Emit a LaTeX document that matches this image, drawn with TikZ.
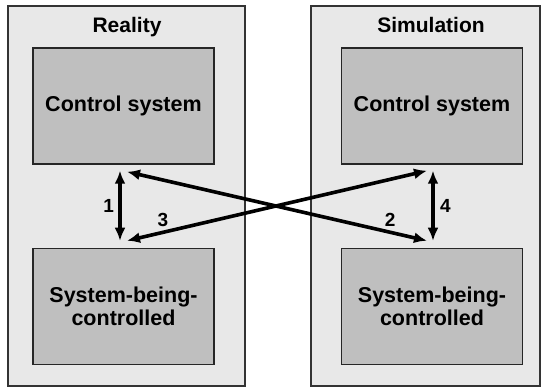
\documentclass[tikz,border=0pt]{standalone}
\usepackage{fontspec}
\setmainfont{Liberation Sans}
\usetikzlibrary{arrows.meta,positioning}

\tikzset{
  panel/.style={draw=black!80, fill=black!9, line width=1.2pt, inner sep=0pt, minimum height=380pt},
  box/.style={draw=black!85, fill=black!25, line width=1.5pt, minimum width=181pt, minimum height=116pt,
    align=center, font=\fontsize{21.5}{23}\selectfont\bfseries},
  title/.style={anchor=base, font=\fontsize{21}{23}\selectfont\bfseries},
  num/.style={font=\fontsize{19}{20}\selectfont\bfseries},
  conn/.style={<->, line width=3.6pt},
}

\begin{document}
\begin{tikzpicture}[x=1pt,y=1pt,>={Latex[length=13pt,width=11pt]}]
    \useasboundingbox (0,0) rectangle (542,-387);

    % the two sides
    \node[panel, minimum width=237pt] (real) at (126.5,-196) {};
    \node[panel, minimum width=229pt] (sim) at (425.5,-196) {};
    \node[title] (realtitle) at (127,-33) {Reality};
    \node[title] (simtitle) at (431,-33) {Simulation};

    \node[box] (rcs) at (123.5,-106) {Control system};
    \node[box] (rsc) [below=83pt of rcs] {System-being-\\controlled};
    \node[box] (scs) at (432,-106) {Control system};
    \node[box] (ssc) [below=83pt of scs] {System-being-\\controlled};

    % connections
    \draw[conn] ([xshift=-3.5pt,yshift=-6pt]rcs.south) -- node[num, left=1pt] {1} ([xshift=-3.5pt,yshift=7pt]rsc.north);
    \draw[conn] ([xshift=3.5pt,yshift=-7pt]rcs.south) -- node[num, pos=0.877, above=1pt] {2} ([xshift=-5pt,yshift=7pt]ssc.north);
    \draw[conn] ([xshift=3.5pt,yshift=7pt]rsc.north) -- node[num, pos=0.12, above=1pt] {3} ([xshift=-5pt,yshift=-6pt]scs.south);
    \draw[conn] ([xshift=1pt,yshift=-6pt]scs.south) -- node[num, right=2pt] {4} ([xshift=1pt,yshift=7pt]ssc.north);
\end{tikzpicture}
\end{document}
